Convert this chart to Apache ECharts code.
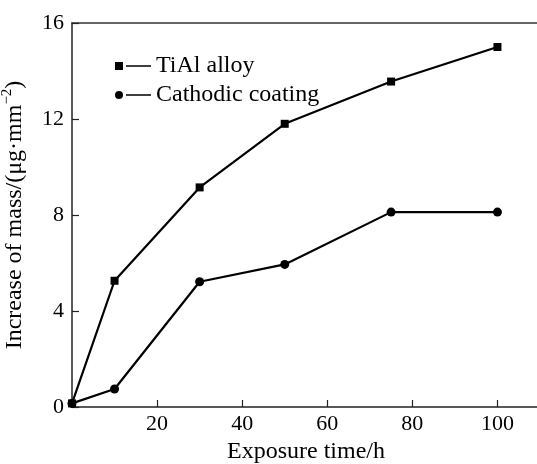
<!DOCTYPE html>
<html>
<head>
<meta charset="utf-8">
<script src="https://cdn.jsdelivr.net/npm/echarts@6/dist/echarts.min.js"></script>
<style>html,body{margin:0;padding:0;background:#fff;}#c{width:537px;height:464px;}</style>
</head>
<body>
<div id="c"></div>
<script>
const exposureTime = [0, 10, 30, 50, 75, 100];
const tialAlloy = [0.15, 5.26, 9.15, 11.8, 13.56, 15.0];
const cathodicCoating = [0.15, 0.75, 5.22, 5.94, 8.12, 8.12];
const seriesNames = ['TiAl alloy', 'Cathodic coating'];

const FONT = '"Liberation Serif", "Times New Roman", serif';
const chart = echarts.init(document.getElementById('c'), null, {renderer: 'canvas'});

function pairs(xs, ys) { return xs.map((x, i) => [x, ys[i]]); }

chart.setOption({
  animation: false,
  backgroundColor: '#fff',
  textStyle: {fontFamily: FONT, color: '#000'},
  grid: {left: 72, right: -3, top: 23, bottom: 57, containLabel: false, outerBoundsMode: 'none'},
  legend: {
    orient: 'vertical',
    left: 110,
    top: 49,
    itemWidth: 36,
    itemHeight: 8,
    itemGap: 5,
    textStyle: {fontFamily: FONT, fontSize: 24, color: '#000'},
    data: [
      {name: seriesNames[0], icon: 'path://M0,0H8V8H0Z M11,3.3H36V4.7H11Z', itemStyle: {color: '#000'}},
      {name: seriesNames[1], icon: 'path://M0,4A4,4,0,1,1,8,4A4,4,0,1,1,0,4Z M11,3.3H36V4.7H11Z', itemStyle: {color: '#000'}}
    ]
  },
  xAxis: [{
    type: 'value', min: 0, max: 110, interval: 20,
    name: 'Exposure time/h', nameLocation: 'middle', nameGap: 33,
    nameTextStyle: {fontFamily: FONT, fontSize: 24, color: '#000'},
    axisLine: {show: true, lineStyle: {color: '#222', width: 1.5}},
    axisTick: {show: true, inside: true, length: 7, lineStyle: {color: '#222', width: 1.2}},
    axisLabel: {fontFamily: FONT, fontSize: 22, color: '#000', margin: 6, showMinLabel: false, showMaxLabel: false},
    splitLine: {show: false}
  }, {
    type: 'value', position: 'top', min: 0, max: 110,
    axisLine: {show: true, lineStyle: {color: '#333', width: 1.5}},
    axisTick: {show: false}, axisLabel: {show: false}, splitLine: {show: false}
  }],
  yAxis: {
    type: 'value', min: 0, max: 16, interval: 4,
    name: 'Increase of mass/(μg·mm{sup|−2})', nameLocation: 'middle', nameGap: 42,
    nameRotate: 90,
    nameTextStyle: {
      fontFamily: FONT, fontSize: 24, color: '#000',
      rich: {sup: {fontFamily: FONT, fontSize: 15, color: '#000', verticalAlign: 'top', lineHeight: 30}}
    },
    axisLine: {show: true, lineStyle: {color: '#222', width: 1.5}},
    axisTick: {show: true, inside: true, length: 7, lineStyle: {color: '#222', width: 1.2}},
    axisLabel: {fontFamily: FONT, fontSize: 22, color: '#000', margin: 8},
    splitLine: {show: false}
  },
  series: [{
    name: seriesNames[0], type: 'line', data: pairs(exposureTime, tialAlloy),
    symbol: 'rect', symbolSize: 8,
    lineStyle: {color: '#000', width: 2.2}, itemStyle: {color: '#000'}
  }, {
    name: seriesNames[1], type: 'line', data: pairs(exposureTime, cathodicCoating),
    symbol: 'circle', symbolSize: 9,
    lineStyle: {color: '#000', width: 2.2}, itemStyle: {color: '#000'}
  }]
});
</script>
</body>
</html>
